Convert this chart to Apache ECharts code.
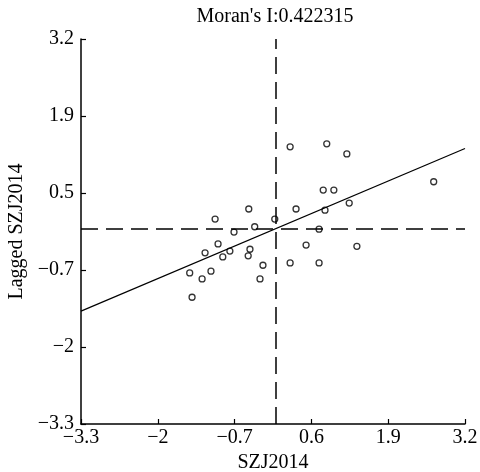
<!DOCTYPE html>
<html>
<head>
    <meta charset="utf-8">
    <title>Moran scatter</title>
    <script src="https://cdn.jsdelivr.net/npm/echarts@6/dist/echarts.min.js"></script>
    <style>
        html, body { margin: 0; padding: 0; background: #fff; }
    </style>
</head>
<body>
    <div id="chart" style="width:480px;height:472px;"></div>
    <script>
        // values
        var moranI = 0.422315;
        var szj2014 = [0.24, 0.86, 1.20, 2.67, 0.80, 0.98, 1.24, -0.46, 0.34, 0.83, -1.03,
            -0.02, -0.36, 0.73, -0.71, -0.98, -1.20, -0.78, -0.44, -0.90, -0.47, 0.51,
            1.37, -0.22, 0.24, 0.73, -1.46, -1.10, -1.25, -0.27, -1.42];
        var laggedSzj2014 = [1.38, 1.43, 1.26, 0.79, 0.65, 0.65, 0.43, 0.33, 0.33, 0.31, 0.16,
            0.16, 0.03, -0.01, -0.06, -0.26, -0.41, -0.38, -0.35, -0.48, -0.46, -0.28,
            -0.30, -0.62, -0.58, -0.58, -0.75, -0.72, -0.85, -0.85, -1.16];
        var xTickLabels = ['\u22123.3', '\u22122', '\u22120.7', '0.6', '1.9', '3.2'];
        var yTickLabels = ['\u22123.3', '\u22122', '\u22120.7', '0.5', '1.9', '3.2'];
        var axisMin = -3.3, axisMax = 3.2, axisStep = 1.3;

        var points = [];
        for (var i = 0; i < szj2014.length; i++) {
            points.push([szj2014[i], laggedSzj2014[i]]);
        }
        // fitted line through the origin, slope = Moran's I
        var fitLine = [[axisMin, axisMin * moranI], [axisMax, axisMax * moranI]];

        var font = '"Liberation Serif", "DejaVu Serif", serif';
        var axisCommon = {
            type: 'value',
            min: axisMin,
            max: axisMax,
            interval: axisStep,
            splitLine: { show: false },
            axisLine: { show: true, onZero: false, lineStyle: { color: '#000', width: 1.5 } },
            axisTick: { show: true, inside: true, length: 5, lineStyle: { color: '#000', width: 1.2 } },
            nameLocation: 'middle',
            nameTextStyle: { fontFamily: font, fontSize: 20, color: '#000' }
        };

        var option = {
            animation: false,
            backgroundColor: '#fff',
            title: {
                text: "Moran's I:0.422315",
                left: 270,
                textAlign: 'center',
                top: 2,
                textStyle: { fontFamily: font, fontSize: 20, fontWeight: 'normal', color: '#000' }
            },
            grid: { left: 81, right: 15, top: 39, bottom: 48, outerBoundsMode: 'none', containLabel: false },
            xAxis: Object.assign({}, axisCommon, {
                name: 'SZJ2014',
                nameGap: 28,
                axisLabel: {
                    margin: 4,
                    fontFamily: font, fontSize: 20, color: '#000',
                    formatter: function (v, idx) { return xTickLabels[idx]; }
                }
            }),
            yAxis: Object.assign({}, axisCommon, {
                name: 'Lagged SZJ2014',
                nameGap: 53,
                axisLabel: {
                    margin: 7,
                    fontFamily: font, fontSize: 20, color: '#000',
                    formatter: function (v, idx) { return yTickLabels[idx]; }
                }
            }),
            series: [
                {
                    type: 'line',
                    data: fitLine,
                    symbol: 'none',
                    silent: true,
                    lineStyle: { color: '#000', width: 1.2 },
                    z: 3
                },
                {
                    type: 'scatter',
                    data: points,
                    symbol: 'circle',
                    symbolSize: 6,
                    itemStyle: { color: 'rgba(255,255,255,0)', borderColor: '#000', borderWidth: 1.3 },
                    z: 4,
                    markLine: {
                        silent: true,
                        symbol: 'none',
                        label: { show: false },
                        lineStyle: { color: '#000', width: 1.5, type: [17, 8] },
                        data: [{ xAxis: 0 }, { yAxis: 0 }]
                    }
                }
            ]
        };

        var myChart = echarts.init(document.getElementById('chart'));
        myChart.setOption(option, true);
    </script>
</body>
</html>
